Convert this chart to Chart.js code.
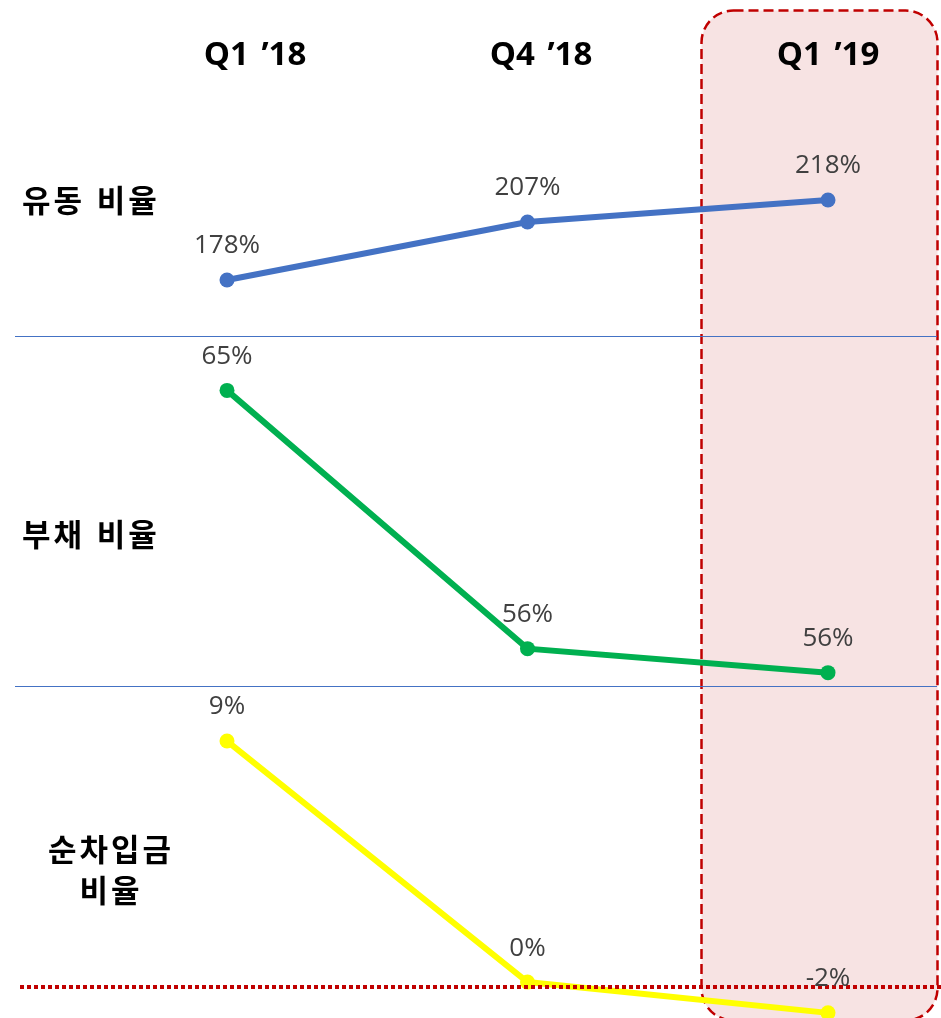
<!DOCTYPE html>
<html lang="ko">
<head>
<meta charset="utf-8">
<title>유동 비율 / 부채 비율 / 순차입금 비율</title>
<script src="https://cdn.jsdelivr.net/npm/chart.js@4.4.1/dist/chart.umd.min.js"></script>
<style>
  html, body { margin: 0; padding: 0; background: #fff; }
  #wrap { position: relative; width: 941px; height: 1018px; overflow: hidden; }
  #wrap canvas { position: absolute; left: 0; top: 0; }
  .head {
    position: absolute; top: 36px; transform: translateX(-50%);
    font: bold 33px "Open Sans", sans-serif; line-height: 1; color: #000; white-space: nowrap;
    word-spacing: 4px;
  }
  .cat {
    position: absolute; font: bold 31px "Noto Sans CJK KR", sans-serif;
    line-height: 41px; color: #000; white-space: nowrap; letter-spacing: 3px;
  }
</style>
</head>
<body>
<div id="wrap">
  <canvas id="ratioChart" width="941" height="1018"></canvas>
  <div class="head" style="left:255px">Q1 ’18</div>
  <div class="head" style="left:541px">Q4 ’18</div>
  <div class="head" style="left:828px">Q1 ’19</div>
  <div class="cat" style="left:22px; top:178px">유동 비율</div>
  <div class="cat" style="left:22px; top:512px">부채 비율</div>
  <div class="cat" style="left:111px; top:827px; transform:translateX(-50%); text-align:center">순차입금<br>비율</div>
</div>
<script>
const quarters = ["Q1 ’18", "Q4 ’18", "Q1 ’19"];
const currentRatio = [178, 207, 218];   // 유동 비율
const debtRatio = [65, 56.4, 55.6];     // 부채 비율
const netDebtRatio = [9, -0.4, -1.6];   // 순차입금 비율

const seriesColors = {
  current: "#4472C4",
  debt: "#00B050",
  netDebt: "#FFFF00",
};

// each panel gets its own hidden y axis, stretched over the whole page
const panelRanges = {
  y1: [-191, 318],
  y2: [44.1, 78.0],
  y3: [-1.8, 37.9],
};

const decorations = {
  id: "decorations",
  beforeDatasetsDraw(chart) {
    const ctx = chart.ctx;
    ctx.save();
    // highlight box for the latest quarter
    ctx.beginPath();
    ctx.roundRect(701.5, 10.5, 236, 1010, 32);
    ctx.fillStyle = "#F7E3E3";
    ctx.fill();
    ctx.setLineDash([10, 5]);
    ctx.lineWidth = 2.5;
    ctx.strokeStyle = "#C00000";
    ctx.stroke();
    ctx.setLineDash([]);
    // panel separators
    ctx.strokeStyle = "#4472C4";
    ctx.lineWidth = 1;
    [336.5, 686.5].forEach((y) => {
      ctx.beginPath();
      ctx.moveTo(15, y);
      ctx.lineTo(937, y);
      ctx.stroke();
    });
    ctx.restore();
  },
  afterDatasetsDraw(chart) {
    const ctx = chart.ctx;
    ctx.save();
    // dotted zero line of the bottom panel
    ctx.fillStyle = "#C00000";
    for (let x = 20; x < 941; x += 7) {
      ctx.fillRect(x, 985, 4, 4);
    }
    // value labels
    ctx.font = "26px 'Open Sans', sans-serif";
    ctx.fillStyle = "#404040";
    ctx.textAlign = "center";
    ctx.textBaseline = "middle";
    chart.data.datasets.forEach((ds, i) => {
      chart.getDatasetMeta(i).data.forEach((pt, j) => {
        ctx.fillText(Math.round(ds.data[j]) + "%", pt.x, pt.y - 34);
      });
    });
    ctx.restore();
  },
};

function makeDataset(label, data, color, axis) {
  return {
    label: label,
    data: data,
    yAxisID: axis,
    borderColor: color,
    backgroundColor: color,
    borderWidth: 6,
    pointRadius: 7.5,
    pointBorderWidth: 0,
    pointHoverRadius: 7.5,
    clip: false,
    tension: 0,
  };
}

function hiddenAxis(range) {
  return { display: false, min: range[0], max: range[1] };
}

new Chart(document.getElementById("ratioChart"), {
  type: "line",
  data: {
    labels: quarters,
    datasets: [
      makeDataset("유동 비율", currentRatio, seriesColors.current, "y1"),
      makeDataset("부채 비율", debtRatio, seriesColors.debt, "y2"),
      makeDataset("순차입금 비율", netDebtRatio, seriesColors.netDebt, "y3"),
    ],
  },
  options: {
    responsive: false,
    animation: false,
    layout: { autoPadding: false, padding: { left: 227, right: 113, top: 0, bottom: 0 } },
    plugins: {
      legend: { display: false },
      tooltip: { enabled: false },
    },
    scales: {
      x: { display: false, offset: false },
      y1: hiddenAxis(panelRanges.y1),
      y2: hiddenAxis(panelRanges.y2),
      y3: hiddenAxis(panelRanges.y3),
    },
  },
  plugins: [decorations],
});
</script>
</body>
</html>
